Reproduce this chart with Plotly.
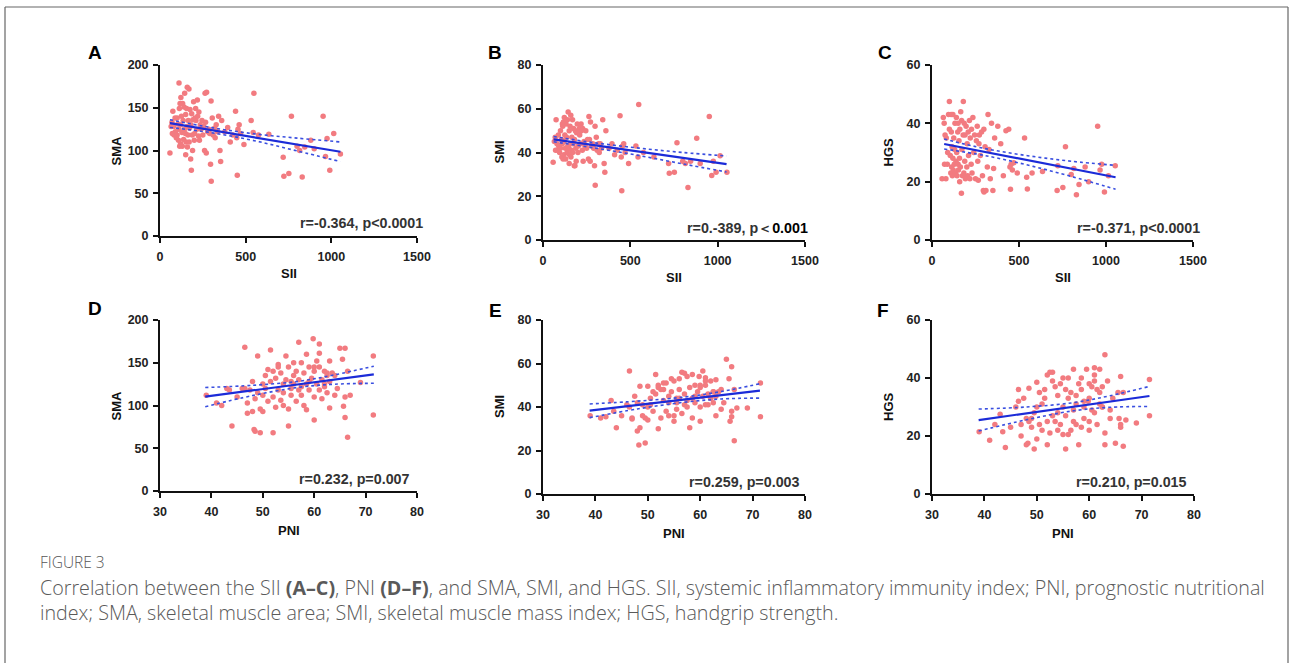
import plotly.graph_objects as go

W, H = 1290, 663

# ---- SII panels (A-C): one entry per patient ----
sii = [58, 65, 70, 72, 75, 80, 82, 88, 90, 95, 100, 100, 105, 108, 110, 111, 113, 115, 117, 120,
       120, 122, 125, 128, 130, 132, 135, 138, 140, 142, 144, 148, 150, 150, 152, 155, 158, 159, 160, 163,
       165, 169, 170, 172, 175, 179, 180, 183, 185, 188, 190, 192, 196, 200, 202, 205, 208, 210, 215, 218,
       220, 225, 227, 230, 235, 240, 245, 250, 255, 260, 263, 266, 270, 272, 278, 285, 290, 295, 298, 299,
       305, 310, 318, 322, 328, 335, 342, 350, 354, 360, 378, 395, 410, 425, 441, 448, 451, 455, 462, 470,
       490, 532, 544, 548, 575, 635, 719, 723, 752, 767, 800, 815, 830, 845, 880, 900, 952, 966, 975, 991,
       1014, 1053]
sma_sii = [97, 128, 133, 120, 146, 128, 118, 138, 122, 115, 138, 118, 131, 112, 125, 179, 149, 105, 155, 108,
           130, 162, 140, 121, 105, 155, 135, 113, 151, 125, 167, 120, 95, 142, 110, 149, 128, 174, 104, 118,
           135, 172, 110, 126, 148, 90, 130, 77, 143, 118, 100, 136, 157, 112, 120, 138, 149, 135, 125, 159,
           140, 117, 145, 112, 130, 125, 135, 118, 128, 100, 167, 133, 97, 168, 122, 125, 120, 84, 158, 64,
           138, 118, 126, 115, 130, 122, 140, 100, 87, 135, 122, 127, 110, 118, 146, 115, 71, 125, 130, 120,
           107, 135, 121, 167, 118, 119, 92, 70, 73, 140, 105, 100, 69, 104, 112, 102, 140, 93, 114, 77,
           120, 96]
smi_sii = [35.5, 45, 47, 41, 55, 44, 41, 48, 43, 40, 50, 42, 46, 38, 44, 53, 52, 37, 54, 39,
           45, 56, 48, 42, 37, 53, 47, 40, 55, 43, 58.5, 42, 35, 50, 39, 52, 44, 57, 38, 41,
           47, 55, 40, 44, 51, 34, 46, 34, 50, 42, 36, 49, 53, 40, 43, 50, 51, 48, 44, 53,
           50, 41, 51, 36, 45, 43, 50, 42, 46, 37, 56.5, 46, 36, 54, 43, 44, 42, 34, 52, 25,
           47, 41, 44, 40, 44, 42, 55, 35, 31, 50, 42, 44, 39, 41, 56.8, 38, 22.5, 43, 44, 40,
           35, 43, 38, 62, 40, 38, 35, 30.5, 31, 44.5, 36, 35, 24, 36, 46.5, 35, 56.5, 29.5, 36, 31,
           38.5, 31]
hgs_sii = [21, 42, 40, 26, 36, 21, 35, 26, 30, 43, 47.5, 38, 29, 23, 43, 37, 25, 32, 22, 28,
           43, 24, 35, 26, 31, 40, 23, 27, 42, 30, 22, 37, 26, 40, 24, 34, 28, 20, 38, 25,
           44, 16, 41, 31, 22, 36, 47.5, 23, 40, 27, 36, 21, 39, 25, 33, 22, 37, 29, 41, 21,
           35, 26, 38, 23, 42, 30, 36, 21, 34, 39, 27, 20.5, 33, 36, 29, 37, 22, 17, 38, 16.5,
           32, 17, 25, 43, 31, 21, 40, 17, 24.5, 35, 39, 33, 22, 37.5, 38, 25, 17.4, 26, 24, 26.5,
           23, 35, 21.5, 17.5, 23, 23.5, 17, 25.5, 18, 32, 22.5, 24.5, 15.5, 19, 25, 20, 39, 24, 26, 16.5,
           22, 25.5]

# ---- PNI panels (D-F) ----
pni = [39, 41, 42, 43, 43.5, 44, 45, 46.5, 46.5, 47, 47, 47.5, 48, 48, 48.3, 48.5, 48.5, 49, 49, 49.5,
       49.5, 50, 50, 50.5, 50.5, 51, 51, 51.5, 51.5, 52, 52, 52.5, 52.5, 53, 53, 53.5, 53.5, 54, 54, 54.5,
       54.5, 55, 55, 55, 55.5, 55.5, 56, 56, 56.5, 56.5, 57, 57, 57, 57.5, 57.5, 58, 58, 58.5, 58.5, 59,
       59, 59.5, 59.8, 60, 60, 60, 60.5, 60.5, 61, 61, 61, 61.5, 61.5, 62, 62, 62.5, 62.5, 63, 63, 63,
       63.5, 64, 64.5, 65, 65.5, 65.7, 66, 66, 66, 66.5, 66.5, 67, 69, 71.5, 71.5, 53, 54, 56, 58.5, 59,
       60, 62, 64, 50, 46, 57.5, 55.5, 61, 62.5, 52]
sma_pni = [112, 103, 100, 120, 118, 76, 110, 168, 120, 103, 91, 118, 93, 128, 72, 70, 108, 158, 115, 68,
           96, 125, 112, 135, 120, 142, 105, 165, 128, 68, 110, 132, 98, 148, 118, 138, 106, 125, 115, 158,
           130, 76, 96, 145, 120, 112, 135, 125, 140, 105, 174, 118, 130, 150, 112, 138, 100, 125, 160, 118,
           145, 132, 178, 83, 140, 110, 152, 125, 172, 161, 118, 130, 108, 140, 122, 135, 115, 152, 97, 128,
           138, 112, 120, 167, 154, 99, 167, 86, 110, 63, 140, 112, 127, 158, 89, 145, 100, 150, 95, 128,
           145, 125, 135, 93, 120, 122, 128, 145, 138, 140]
smi_pni = [36, 35, 35.5, 43, 38, 30.5, 36, 56.5, 40, 35, 34.5, 45, 29, 42, 22.5, 30.5, 49.5, 36, 41, 23.5,
           35, 49.5, 40, 44, 41, 47, 38, 55, 46, 30, 50, 48, 35, 48, 43, 51, 38, 45, 42, 53,
           47, 33.5, 36, 52, 42, 39, 48, 44, 56, 37, 55.5, 41, 46, 54, 40, 49, 30.5, 44, 55, 42,
           50, 47, 54, 33.5, 49, 40, 56.5, 45, 53.5, 52, 41, 46, 41, 52, 44, 47, 42, 52.5, 36, 45,
           47, 39, 42, 62, 53, 33.5, 58.5, 35.5, 38, 24.5, 48, 39.5, 39.5, 51, 35.5, 51, 36, 53, 35, 45,
           50, 44, 48, 34, 41, 43, 44, 50, 47, 49]
hgs_pni = [21.5, 18.5, 24, 27.5, 21.5, 16, 23, 36, 32, 20, 24, 33, 17, 26, 17.5, 25, 36.5, 26, 23, 15.5,
           28, 38.5, 30, 35, 24, 31, 22, 36, 33, 17, 25, 42, 21, 42, 39, 37, 25, 28, 34, 38,
           24, 30, 20.5, 40, 15.5, 27, 33, 20.5, 35, 22, 43, 29, 25, 31, 24, 38, 17, 40, 36, 30,
           26, 43, 32, 22, 38, 25, 37, 29, 43.5, 39, 28, 36, 24, 43, 35, 37, 30, 48, 17, 21,
           39, 26, 33, 17.5, 35, 26, 40.5, 23, 24, 16.5, 35, 25.5, 24.5, 39.5, 27, 27, 22, 40, 23, 32,
           33, 31, 29, 19, 30, 34, 36, 41, 30, 41]

# ---- fitted lines and 95% confidence bands ----
fit_a_x, fit_a_y = [58, 1053], [132, 98.5]
ci_a_x = [58, 300, 550, 800, 1053]
ci_a_hi = [136, 126.8, 119.5, 114.5, 110]
ci_a_lo = [127, 120.8, 111.5, 99.5, 87]

fit_b_x, fit_b_y = [61, 1051], [46, 34.7]
ci_b_x = [61, 300, 550, 800, 1051]
ci_b_hi = [47.3, 44.4, 42, 40, 38.4]
ci_b_lo = [44.9, 42, 38.6, 34.8, 31.1]

fit_c_x, fit_c_y = [70, 1055], [32.9, 21.5]
ci_c_x = [70, 300, 550, 800, 1055]
ci_c_hi = [34.6, 31.4, 28.9, 27, 25.6]
ci_c_lo = [31.2, 29, 25.7, 21.8, 17.4]

fit_d_x, fit_d_y = [38.8, 71.6], [110.3, 136.4]
ci_d_x = [38.8, 48, 57, 64, 71.6]
ci_d_hi = [121, 123.6, 128.3, 135.9, 146]
ci_d_lo = [98.6, 111.6, 121.3, 124.9, 126]

fit_e_x, fit_e_y = [38.9, 71.4], [38.3, 47.5]
ci_e_x = [38.9, 48, 57, 64, 71.4]
ci_e_hi = [41.4, 42.7, 44.6, 47.1, 50.7]
ci_e_lo = [35.1, 39.1, 42.2, 43.7, 44.1]

fit_f_x, fit_f_y = [38.9, 71.5], [25.5, 33.8]
ci_f_x = [38.9, 48, 57, 64, 71.5]
ci_f_hi = [29.3, 30, 31.5, 33.9, 37.1]
ci_f_lo = [21.7, 25.6, 28.7, 29.9, 30.2]

sii_ticks = [0, 500, 1000, 1500]
pni_ticks = [30, 40, 50, 60, 70, 80]
sma_ticks = [0, 50, 100, 150, 200]
smi_ticks = [0, 20, 40, 60, 80]
hgs_ticks = [0, 20, 40, 60]

stats = ["r=-0.364, p<0.0001",
         "r=0.-389, p\uff1c<span style='color:#000'>0.001</span>",
         "r=-0.371, p<0.0001",
         "r=0.232, p=0.007",
         "r=0.259, p=0.003",
         "r=0.210, p=0.015"]

panels = [
    dict(tag="A", x=sii, y=sma_sii, fx=fit_a_x, fy=fit_a_y, cx=ci_a_x, chi=ci_a_hi, clo=ci_a_lo,
         xt=sii_ticks, yt=sma_ticks, xl="SII", yl="SMA"),
    dict(tag="B", x=sii, y=smi_sii, fx=fit_b_x, fy=fit_b_y, cx=ci_b_x, chi=ci_b_hi, clo=ci_b_lo,
         xt=sii_ticks, yt=smi_ticks, xl="SII", yl="SMI"),
    dict(tag="C", x=sii, y=hgs_sii, fx=fit_c_x, fy=fit_c_y, cx=ci_c_x, chi=ci_c_hi, clo=ci_c_lo,
         xt=sii_ticks, yt=hgs_ticks, xl="SII", yl="HGS"),
    dict(tag="D", x=pni, y=sma_pni, fx=fit_d_x, fy=fit_d_y, cx=ci_d_x, chi=ci_d_hi, clo=ci_d_lo,
         xt=pni_ticks, yt=sma_ticks, xl="PNI", yl="SMA"),
    dict(tag="E", x=pni, y=smi_pni, fx=fit_e_x, fy=fit_e_y, cx=ci_e_x, chi=ci_e_hi, clo=ci_e_lo,
         xt=pni_ticks, yt=smi_ticks, xl="PNI", yl="SMI"),
    dict(tag="F", x=pni, y=hgs_pni, fx=fit_f_x, fy=fit_f_y, cx=ci_f_x, chi=ci_f_hi, clo=ci_f_lo,
         xt=pni_ticks, yt=hgs_ticks, xl="PNI", yl="HGS"),
]

# plot boxes in pixels: left, right, top, bottom
boxes = [(160, 417, 65, 236), (543, 805, 65, 240), (932, 1193, 65, 240),
         (160, 417, 320, 491), (543, 805, 320, 494), (932, 1194, 320, 494)]
# letter position, x-title y, stats right edge / y
letter_pos = [(95, 53), (495, 53), (885, 53), (95, 308), (495, 310), (883, 310)]
xtitle_y = [273, 277, 277, 530, 533, 533]
stats_pos = [(425, 223), (810, 228), (1202, 228), (412, 479), (802, 482), (1189, 482)]

PT_COLOR = "#F27B80"
LINE_COLOR = "#1B2BD8"
CI_COLOR = "#3A4FE0"
AX_COLOR = "#111111"
FONT = "Arial, Liberation Sans, sans-serif"


def px(v):
    return v / W


def py(v):
    return 1 - v / H


fig = go.Figure()
layout = dict(width=W, height=H, margin=dict(l=0, r=0, t=0, b=0, autoexpand=False),
              paper_bgcolor="white", plot_bgcolor="white", showlegend=False)
annotations = []

for i, (p, box) in enumerate(zip(panels, boxes), start=1):
    xa, ya = f"x{i}", f"y{i}"
    fig.add_trace(go.Scatter(x=p["x"], y=p["y"], mode="markers", xaxis=xa, yaxis=ya,
                             marker=dict(size=5.5, color=PT_COLOR, line=dict(width=0))))
    for band in (p["chi"], p["clo"]):
        fig.add_trace(go.Scatter(x=p["cx"], y=band, mode="lines", xaxis=xa, yaxis=ya,
                                 line=dict(color=CI_COLOR, width=1.6, dash="dot", shape="spline")))
    fig.add_trace(go.Scatter(x=p["fx"], y=p["fy"], mode="lines", xaxis=xa, yaxis=ya,
                             line=dict(color=LINE_COLOR, width=2.2)))

    l, r, t, b = box
    common = dict(showline=True, linewidth=2, linecolor=AX_COLOR, ticks="outside", ticklen=5,
                  tickwidth=2, tickcolor=AX_COLOR, showgrid=False, zeroline=False, fixedrange=True,
                  automargin=False,
                  tickfont=dict(family=FONT, size=12.5, color="#222", weight="bold"))
    layout[f"xaxis{i}"] = dict(domain=[px(l), px(r)], anchor=ya, range=[p["xt"][0], p["xt"][-1]],
                               tickvals=p["xt"], ticklabelstandoff=3, **common)
    layout[f"yaxis{i}"] = dict(domain=[py(b), py(t)], anchor=xa, range=[p["yt"][0], p["yt"][-1]],
                               tickvals=p["yt"], ticklabelstandoff=2, **common)

    lx, ly = letter_pos[i - 1]
    annotations.append(dict(text=f"<b>{p['tag']}</b>", x=px(lx), y=py(ly), xref="paper", yref="paper",
                            showarrow=False, xanchor="center", yanchor="middle",
                            font=dict(family=FONT, size=19, color="#000")))
    annotations.append(dict(text=f"<b>{p['xl']}</b>", x=px((l + r) / 2), y=py(xtitle_y[i - 1]),
                            xref="paper", yref="paper", showarrow=False, xanchor="center",
                            yanchor="middle", font=dict(family=FONT, size=13, color="#111")))
    annotations.append(dict(text=f"<b>{p['yl']}</b>", x=px(l - 44), y=py((t + b) / 2), xref="paper",
                            yref="paper", showarrow=False, textangle=-90, xanchor="center",
                            yanchor="middle", font=dict(family=FONT, size=13, color="#111")))
    sx, sy = stats_pos[i - 1]
    annotations.append(dict(text=f"<b>{stats[i - 1]}</b>", x=px(sx), y=py(sy), xref="paper",
                            yref="paper", showarrow=False, xanchor="right", yanchor="middle",
                            font=dict(family=FONT, size=14.3, color="#333")))

CAP_FONT = "Open Sans, Noto Sans, sans-serif"
annotations.append(dict(text="FIGURE 3", x=px(38), y=py(562), xref="paper", yref="paper",
                        showarrow=False, xanchor="left", yanchor="middle",
                        font=dict(family=CAP_FONT, size=15.5, color="#555", weight=300)))
annotations.append(dict(text="Correlation between the SII <b>(A\u2013C)</b>, PNI <b>(D\u2013F)</b>, and SMA, SMI, "
                             "and HGS. SII, systemic inflammatory immunity index; PNI, prognostic nutritional",
                        x=px(38), y=py(587), xref="paper", yref="paper", showarrow=False,
                        xanchor="left", yanchor="middle",
                        font=dict(family=CAP_FONT, size=19.7, color="#5a5a5a", weight=300)))
annotations.append(dict(text="index; SMA, skeletal muscle area; SMI, skeletal muscle mass index; HGS, handgrip strength.",
                        x=px(38), y=py(612), xref="paper", yref="paper", showarrow=False,
                        xanchor="left", yanchor="middle",
                        font=dict(family=CAP_FONT, size=19.7, color="#5a5a5a", weight=300)))

layout["annotations"] = annotations
# frame around the figure: left, top and right edges
frame = dict(color="#666", width=1.2)
layout["shapes"] = [
    dict(type="line", xref="paper", yref="paper", x0=px(5), x1=px(5), y0=0, y1=py(7), line=frame),
    dict(type="line", xref="paper", yref="paper", x0=px(5), x1=px(1288), y0=py(7), y1=py(7), line=frame),
    dict(type="line", xref="paper", yref="paper", x0=px(1288), x1=px(1288), y0=0, y1=py(7), line=frame),
]
fig.update_layout(**layout)
fig.write_html("out.html")
